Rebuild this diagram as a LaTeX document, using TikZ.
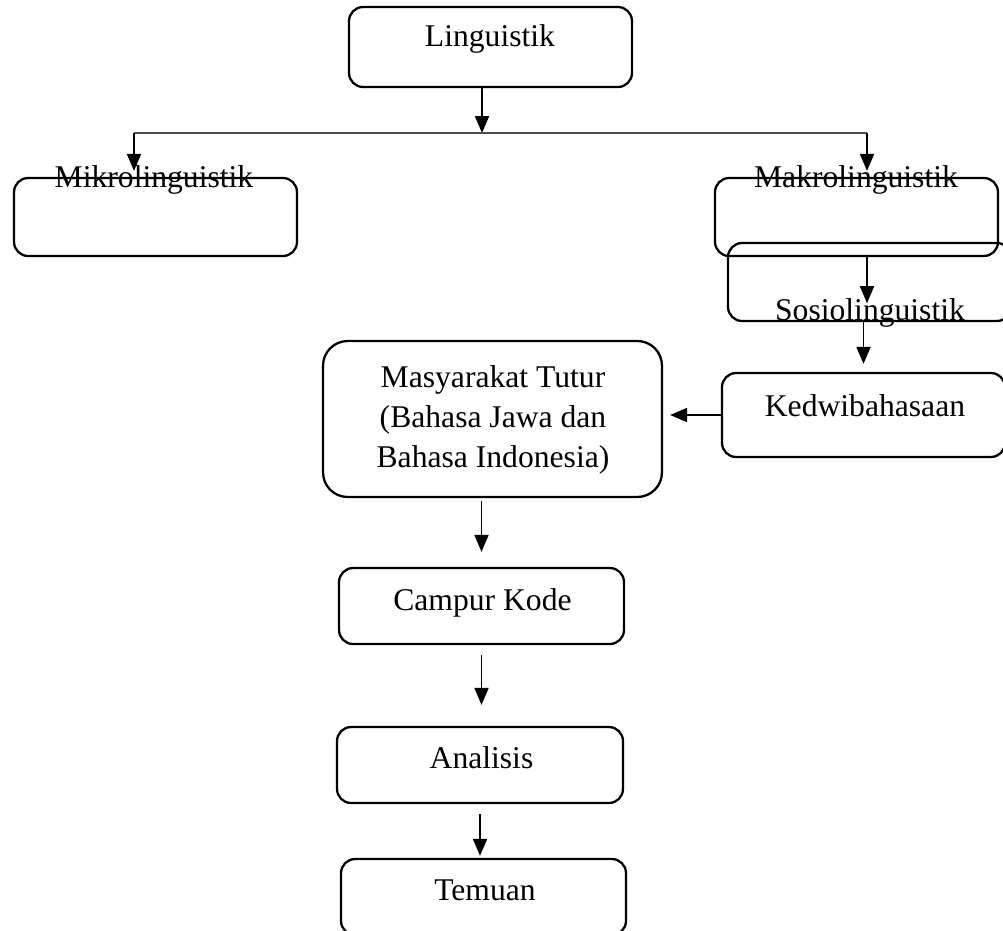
\documentclass[tikz,border=0pt]{standalone}
\usepackage{fontspec}
\setmainfont{Liberation Serif}
\usetikzlibrary{arrows.meta}

\begin{document}
\begin{tikzpicture}[
  x=0.02cm, y=-0.02cm,
  kotak/.style={draw, rounded corners=8pt, line width=1.3pt, inner sep=0pt,
                minimum width=5.66cm, minimum height=1.56cm},
  teks/.style={font=\fontsize{18}{22.7}\selectfont, inner sep=0pt, anchor=base},
  panah/.style={-{Triangle[length=0.34cm,width=0.28cm]}, line width=1.1pt},
  garis/.style={line width=0.7pt, black!70},
]
\useasboundingbox (0,0) rectangle (1003,930);

% ---- Boxes (positions in pixels of the page) --------------------------------
\node[kotak, minimum height=1.6cm] (ling) at (490.5,47) {};
\node[teks] (lingteks) at (490,46) {Linguistik};

\node[kotak] (mikro) at (155.5,217) {};
\node[teks] (mikroteks) at (154,187) {Mikrolinguistik};

\node[kotak] (makro) at (856.5,217) {};
\node[teks] (makroteks) at (856,187) {Makrolinguistik};

\node[kotak] (sosio) at (869.5,282) {};
\node[teks] (sosioteks) at (870,320) {Sosiolinguistik};

\node[kotak, minimum height=1.68cm] (kedwi) at (863.5,415) {};
\node[teks] (kedwiteks) at (865,416) {Kedwibahasaan};

\node[kotak, rounded corners=14pt, minimum width=6.78cm, minimum height=3.12cm] (masya) at (492.5,419) {};
\node[teks, align=center, anchor=north] (masyateks) at (493,365)
  {Masyarakat Tutur\\(Bahasa Jawa dan\\Bahasa Indonesia)};

\node[kotak, minimum width=5.7cm, minimum height=1.52cm] (campur) at (481.5,606) {};
\node[teks] (campurteks) at (482.5,610) {Campur Kode};

\node[kotak, minimum width=5.72cm, minimum height=1.52cm] (analisis) at (480,765) {};
\node[teks] (analisisteks) at (481.5,768) {Analisis};

\node[kotak, minimum width=5.7cm, minimum height=1.52cm] (temuan) at (483.5,897) {};
\node[teks] (temuanteks) at (485,900) {Temuan};

% ---- Connectors -------------------------------------------------------------
\coordinate (cabang) at (482,133);
\coordinate (kiri) at (134,133);
\coordinate (kanan) at (867,133);

\draw[panah] (cabang |- ling.south) -- (cabang);
\draw[garis] (kiri) -- (kanan);
\draw[panah, shorten >=0.12cm] (kiri) -- (kiri |- mikro.north);
\draw[panah, shorten >=0.12cm] (kanan) -- (kanan |- makro.north);
\draw[panah, shorten >=0.38cm] (kanan |- makro.south) -- (kanan |- sosio.south);
\draw[panah, shorten >=0.16cm] (kedwi.north |- sosio.south) -- (kedwi.north);
\draw[panah, shorten >=0.14cm] (kedwi.west) -- (kedwi.west -| masya.east);
\draw[panah, shorten <=0.06cm, shorten >=0.3cm] (campur.north |- masya.south) -- (campur.north);
\draw[panah, shorten <=0.2cm, shorten >=0.42cm] (campur.south) -- (campur.south |- analisis.north);
\draw[panah, shorten <=0.2cm, shorten >=0.04cm] (analisis.south) -- (analisis.south |- temuan.north);

\end{tikzpicture}
\end{document}
